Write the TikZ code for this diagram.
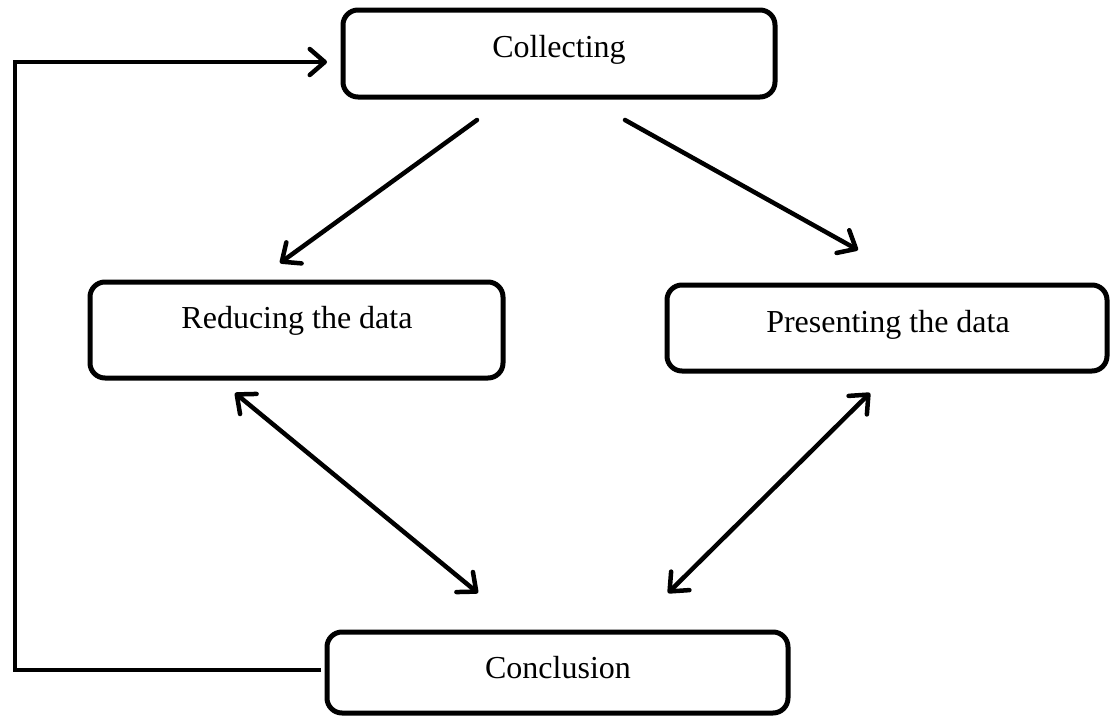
\documentclass[tikz,border=0pt]{standalone}
\usepackage{fontspec}
\setmainfont{Liberation Serif}
\usetikzlibrary{arrows.meta}
\begin{document}
\begin{tikzpicture}[x=1pt,y=-1pt,
  box/.style={draw, line width=5pt, rounded corners=15pt, fill=white, inner sep=0pt},
  lbl/.style={anchor=base, inner sep=0pt, font=\fontsize{32}{38}\selectfont},
  conn/.style={line width=4.5pt, line cap=round, line join=miter},
  >={Straight Barb[length=15pt, width=26pt, line cap=round, line join=round]}
]
\useasboundingbox (0,0) rectangle (1111,715);
% boxes
\node[box, minimum width=432pt, minimum height=87pt] (col) at (559,53.5) {};
\node[box, minimum width=413pt, minimum height=96pt] (red) at (296.5,330) {};
\node[box, minimum width=440pt, minimum height=86pt] (pre) at (887,328) {};
\node[box, minimum width=461pt, minimum height=81pt] (con) at (557.5,672.5) {};
% texts
\node[lbl] (tcol) at (559,57) {Collecting};
\node[lbl] (tred) at (297,328) {Reducing the data};
\node[lbl] (tpre) at (888,332) {Presenting the data};
\node[lbl] (tcon) at (558,678) {Conclusion};
% connector end points
\coordinate (a1) at (477,120);
\coordinate (b1) at (280,263);
\coordinate (a2) at (625,120);
\coordinate (b2) at (858,250);
\coordinate (a3) at (235,393);
\coordinate (b3) at (478,593);
\coordinate (a4) at (870,393);
\coordinate (b4) at (668,593);
\coordinate (l0) at (321,670);
\coordinate (l1) at (15,670);
\coordinate (l2) at (15,62);
\coordinate (l3) at (327,62);
% connectors
\draw[conn, ->] (a1) -- (b1);
\draw[conn, ->] (a2) -- (b2);
\draw[conn, <->] (a3) -- (b3);
\draw[conn, <->] (a4) -- (b4);
\draw[conn, line cap=butt, ->] (l0) -- (l1) -- (l2) -- (l3);
\end{tikzpicture}
\end{document}
